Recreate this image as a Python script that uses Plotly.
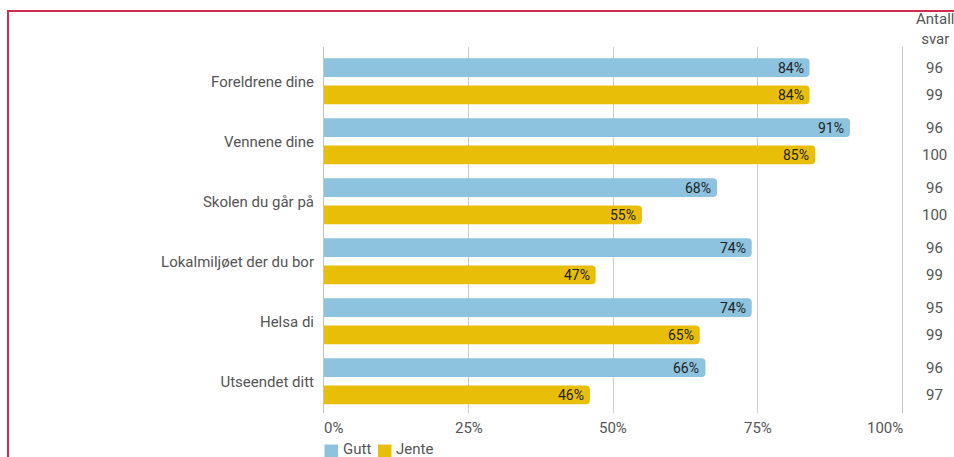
import plotly.graph_objects as go

categories = ["Foreldrene dine", "Vennene dine", "Skolen du går på",
              "Lokalmiljøet der du bor", "Helsa di", "Utseendet ditt"]
gutt = [84, 91, 68, 74, 74, 66]
jente = [84, 85, 55, 47, 65, 46]
antall_gutt = [96, 96, 96, 96, 95, 96]
antall_jente = [99, 100, 100, 99, 99, 97]
x_ticks = [0, 25, 50, 75, 100]
x_labels = ["0%", "25%", "50%", "75%", "100%"]
series_names = ["Gutt", "Jente"]
series_colors = ["#8DC3DF", "#E9BE08"]

FONT = "Roboto"
TXT = "#555555"

L, R, T, B = 324, 52, 47, 44
W, H = 954, 457
pw, ph = W - L - R, H - T - B
SHIFT = 13.7  # half distance between the two bars of a group (px)


def px_x(p):
    return (p - L) / pw


def px_y(p):
    return (H - B - p) / ph


fig = go.Figure()
for name, vals, col in zip(series_names, [gutt, jente], series_colors):
    fig.add_trace(go.Bar(
        y=categories, x=vals, name=name, orientation="h",
        marker=dict(color=col, cornerradius=4, line=dict(width=0)),
        showlegend=False, hoverinfo="x+y",
    ))

annotations = []
# value labels inside bar ends
for vals, sh in zip([gutt, jente], [SHIFT, -SHIFT]):
    for c, v in zip(categories, vals):
        annotations.append(dict(x=v, y=c, xref="x", yref="y", text=f"{v}%", showarrow=False,
                                xanchor="right", yanchor="middle", xshift=-4, yshift=sh,
                                font=dict(family=FONT, size=14, color="#222222")))

# "Antall svar" column
for c, g, j in zip(categories, antall_gutt, antall_jente):
    for n, sh in ((g, SHIFT), (j, -SHIFT)):
        annotations.append(dict(x=px_x(934.5), y=c, text=str(n), showarrow=False,
                                xref="paper", yref="y", xanchor="center", yanchor="middle",
                                yshift=sh, font=dict(family=FONT, size=15, color=TXT)))
annotations.append(dict(x=px_x(934.5), y=px_y(29), xref="paper", yref="paper",
                        xanchor="center", yanchor="middle",
                        text="Antall<br>svar", showarrow=False, align="center",
                        font=dict(family=FONT, size=15, color=TXT)))

# x tick labels (first left-aligned, last right-aligned, like the reference)
for i, (tv, tl) in enumerate(zip(x_ticks, x_labels)):
    anchor = "left" if i == 0 else ("right" if i == len(x_ticks) - 1 else "center")
    xs = -2 if i == 0 else (3 if i == len(x_ticks) - 1 else 0)
    annotations.append(dict(x=tv, y=px_y(428), xref="x", yref="paper", text=tl,
                            showarrow=False, xanchor=anchor, yanchor="middle", xshift=xs,
                            font=dict(family=FONT, size=15, color=TXT)))

# compact legend
shapes = []
leg_sq = [(324.5, 338), (378, 391.5)]
leg_tx = [341, 394]
for (x0, x1), tx, name, col in zip(leg_sq, leg_tx, series_names, series_colors):
    shapes.append(dict(type="rect", xref="paper", yref="paper",
                       x0=px_x(x0), x1=px_x(x1), y0=px_y(458), y1=px_y(444.5),
                       line=dict(width=0), fillcolor=col))
    annotations.append(dict(x=px_x(tx), y=px_y(449), xref="paper", yref="paper",
                            xanchor="left", yanchor="middle", text=name, showarrow=False,
                            font=dict(family=FONT, size=15, color=TXT)))

# outer frame
shapes.append(dict(type="rect", xref="paper", yref="paper",
                   x0=px_x(8), x1=px_x(1000), y0=px_y(520), y1=px_y(11),
                   line=dict(color="#D42A4C", width=2), fillcolor="rgba(0,0,0,0)",
                   layer="above"))

fig.update_layout(
    width=W, height=H,
    margin=dict(l=L, r=R, t=T, b=B, autoexpand=False),
    paper_bgcolor="white", plot_bgcolor="white",
    barmode="group", bargap=0.09, bargroupgap=0.315,
    font=dict(family=FONT, size=15, color=TXT),
    showlegend=False,
    xaxis=dict(range=[0, 100], tickvals=x_ticks, showticklabels=False,
               showgrid=True, gridcolor="#CCCCCC", gridwidth=1, zeroline=False,
               showline=False, ticks=""),
    yaxis=dict(range=[5.528, -0.572], showgrid=False, zeroline=False,
               showline=True, mirror=True, linecolor="#C4C4C4", linewidth=1,
               ticks="", ticklabelstandoff=6,
               tickfont=dict(family=FONT, size=15, color=TXT)),
    annotations=annotations,
    shapes=shapes,
)

fig.write_html("out.html", config={"displayModeBar": False})
with open("out.html", "r", encoding="utf-8") as f:
    html = f.read()
html = html.replace("<head>", "<head><style>html,body{margin:0;padding:0;overflow:hidden;}</style>", 1)
with open("out.html", "w", encoding="utf-8") as f:
    f.write(html)
